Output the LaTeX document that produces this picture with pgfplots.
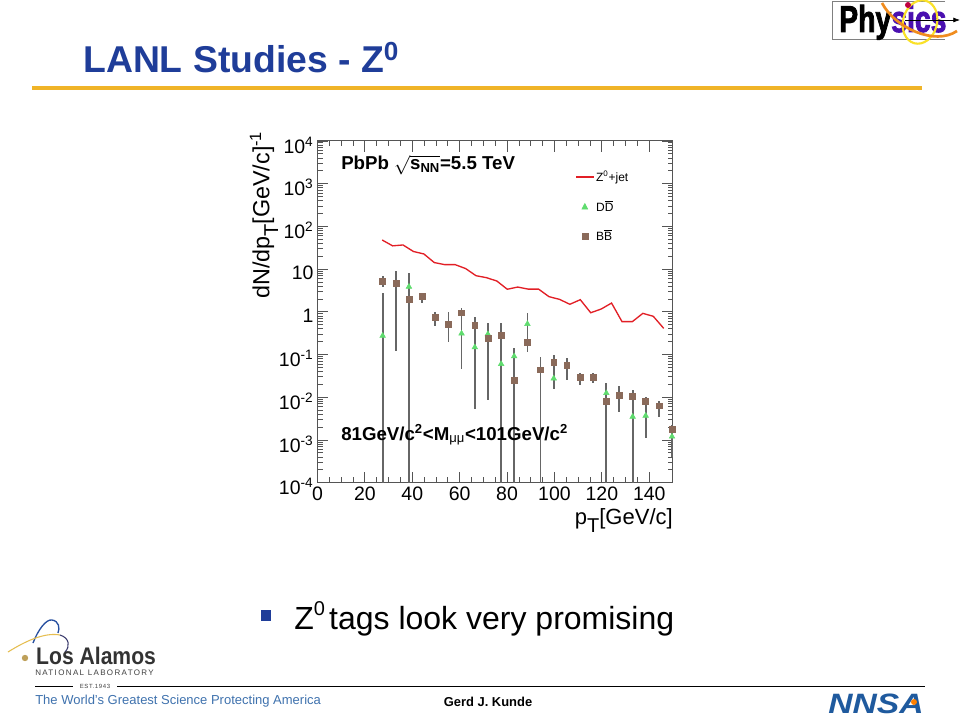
\documentclass[border=0pt]{standalone}
\usepackage{fontspec}
\setmainfont{Liberation Sans}
\usepackage{pgfplots}
\usepackage{pgfplotstable}
\pgfplotsset{compat=1.18}
\usetikzlibrary{arrows.meta}
\definecolor{titleblue}{HTML}{1F3D99}
\definecolor{rulegold}{HTML}{F0B428}
\definecolor{bbbrown}{HTML}{8A6A5A}
\definecolor{ddgreen}{HTML}{5FDC6E}
\definecolor{barcol}{HTML}{666666}
\definecolor{tickcol}{HTML}{555555}
\definecolor{linered}{HTML}{E21F26}
\definecolor{lanlblue}{HTML}{3F72AE}
\definecolor{nnsablue}{HTML}{1F5A9E}
\definecolor{orbitorange}{HTML}{F08C1E}
\definecolor{orbityellow}{HTML}{FAE128}
\definecolor{physpurple}{HTML}{4A10B0}
\definecolor{arcblue}{HTML}{2850A0}
\definecolor{arcgold}{HTML}{E6BE50}
\definecolor{arcdark}{HTML}{3C3C6E}
\definecolor{dotgold}{HTML}{BEA05A}
\newcommand{\fs}[1]{\fontsize{#1}{#1}\selectfont}
\newcommand{\lowT}[1]{\raisebox{-0.38em}{\fs{#1}T}}

% Z0+jet curve
\pgfplotstableread{
x y
27.3 48
31.7 35
36.1 36.7
40.5 25.8
44.9 22.6
49.3 14.2
53.7 12.7
58.1 12.7
62.5 10.3
66.9 7.0
71.3 6.3
75.7 5.25
80.1 3.37
84.5 3.8
88.9 3.4
93.3 3.4
97.7 2.26
102.1 1.96
106.5 1.5
110.9 1.92
115.3 0.95
119.7 1.16
124.1 1.6
128.5 0.59
132.9 0.59
137.3 0.92
141.7 0.785
146.1 0.41
}\zjet

% BB: value, upper and lower end of the bar (1e-5 runs off the axis)
\pgfplotstableread{
x y hi lo
27.5 5.3 6.9 3.9
33.1 4.7 9.0 0.123
38.6 2.0 8.2 1e-5
44.2 2.26 2.8 1.6
49.7 0.74 1.0 0.46
55.3 0.52 0.97 0.2
60.8 0.95 1.25 0.6
66.4 0.49 0.74 0.0053
71.9 0.24 0.55 0.0085
77.5 0.286 0.56 1e-5
83.0 0.025 0.145 1e-5
88.6 0.19 0.25 0.117
94.1 0.044 0.089 1e-5
99.7 0.067 0.10 0.04
105.2 0.056 0.081 0.025
110.8 0.03 0.037 0.019
116.3 0.03 0.036 0.022
121.9 0.0079 0.021 1e-5
127.4 0.011 0.0186 0.0045
133.0 0.0104 0.0148 1e-5
138.5 0.0081 0.0104 0.004
144.1 0.0063 0.0083 0.0035
149.6 0.0018 0.0022 0.0004
}\bbbar

% DD
\pgfplotstableread{
x y hi lo
27.5 0.275 2.75 1e-5
38.6 3.87 5.0 1e-5
60.8 0.31 0.6 0.045
66.4 0.148 0.3 0.0053
71.9 0.30 0.4 0.0085
77.5 0.06 0.1 1e-5
83.0 0.091 0.14 1e-5
88.6 0.52 0.95 0.19
99.7 0.0275 0.04 0.016
121.9 0.0125 0.018 1e-5
133.0 0.0035 0.005 1e-5
138.5 0.0037 0.005 0.0011
149.6 0.0012 0.0018 0.0004
}\ddbar

\begin{document}
\begin{tikzpicture}[x=0.75pt,y=-0.75pt]
\path[use as bounding box,fill=white] (0,0) rectangle (960,720);

% slide header
\node[anchor=base west,inner sep=0,text=titleblue,font=\bfseries\fs{28}] at (83,73) {LANL Studies - Z\textsuperscript{0}};
\fill[rulegold] (32,86) rectangle (922,90);

\begin{axis}[
  at={(238.1pt,-362pt)},anchor=south west,
  scale only axis,
  width=266.6pt,height=256.3pt,
  xmin=0,xmax=150,
  ymode=log,ymin=1e-4,ymax=1e4,
  xtick={0,20,...,140},
  minor x tick num=3,
  ytick={1e-4,1e-3,1e-2,1e-1,1,10,100,1000,10000},
  yticklabels={10\textsuperscript{-4},10\textsuperscript{-3},10\textsuperscript{-2},10\textsuperscript{-1},1,10,10\textsuperscript{2},10\textsuperscript{3},10\textsuperscript{4}},
  tick align=inside,
  major tick length=8pt,
  minor tick length=4pt,
  tick style={color=tickcol,line width=0.6pt},
  axis line style={color=tickcol,line width=0.7pt},
  /pgf/number format/assume math mode=true,
  tick label style={font=\fs{14.6}},
  xticklabel style={yshift=0pt},
  yticklabel style={yshift=-3pt,xshift=0.5pt},
  legend style={at={(0.727,0.921)},anchor=north west,draw=none,fill=none,
    font=\fs{9},row sep=8.5pt,inner sep=0pt},
  legend cell align=left,
]
% bars first, so the marks sit on top
\addplot[draw=none,forget plot,
  error bars/.cd,y dir=both,y explicit,error mark=none,
  error bar style={color=barcol,line width=1.4pt}]
  table[x=x,y=y,y error plus expr=\thisrow{hi}-\thisrow{y},y error minus expr=\thisrow{y}-\thisrow{lo}] {\ddbar};
\addplot[draw=none,forget plot,
  error bars/.cd,y dir=both,y explicit,error mark=none,
  error bar style={color=barcol,line width=1.4pt}]
  table[x=x,y=y,y error plus expr=\thisrow{hi}-\thisrow{y},y error minus expr=\thisrow{y}-\thisrow{lo}] {\bbbar};
\addplot[linered,line width=1pt,no marks,
  legend image code/.code={\fill[linered] (0pt,-0.15pt) rectangle (12pt,0.15pt);}] table[x=x,y=y] {\zjet};
\addplot[only marks,mark=triangle*,mark size=2.4pt,mark options={fill=ddgreen,draw=ddgreen},
  legend image code/.code={\draw[draw=none] (0pt,0pt) -- (12pt,0pt); \fill[ddgreen] (3.8pt,-1.8pt) -- (8.2pt,-1.8pt) -- (6pt,2.4pt) -- cycle;}] table[x=x,y=y] {\ddbar};
\addplot[only marks,mark=square*,mark size=2.2pt,mark options={fill=bbbrown,draw=bbbrown},
  legend image code/.code={\draw[draw=none] (0pt,0pt) -- (12pt,0pt); \fill[bbbrown] (3.8pt,-2.2pt) rectangle (8.2pt,2.2pt);}] table[x=x,y=y] {\bbbar};
\legend{Z\textsuperscript{0}+jet,D$\overline{\mbox{D}}$,B$\overline{\mbox{B}}$}
\end{axis}

% axis titles and notes in the plot
\node[rotate=90,anchor=west,inner sep=0,font=\fs{17.5}] at (264,299) {dN/dp\lowT{15}[GeV/c]\textsuperscript{-1}};
\node[anchor=base east,inner sep=0,font=\fs{16.5}] at (673,524) {p\lowT{15}[GeV/c]};
\node[anchor=base west,inner sep=0,font=\bfseries\fs{14}] at (341,170) {PbPb $\sqrt{\mbox{\bfseries s\textsubscript{NN}}}$=5.5 TeV};
\node[anchor=base west,inner sep=0,font=\bfseries\fs{14}] at (341,440) {81GeV/c\textsuperscript{2}<M\textsubscript{\normalfont μμ}<101GeV/c\textsuperscript{2}};

% bullet line
\fill[titleblue] (260.5,610) rectangle (271,621);
\node[anchor=base west,inner sep=0,font=\fs{24}] at (294,629) {Z\raisebox{0.42em}{\fs{15}0}\hspace{-0.145em} tags look very promising};

% Physics logo
\draw[gray,line width=0.6pt] (945,1) -- (832,1) -- (832,39) -- (945,39);
\node[anchor=base west,inner sep=0,xscale=0.76,font=\bfseries\fs{28}] at (839,32) {\addfontfeature{FakeBold=2.5}Phy\textcolor{physpurple}{sics}};
\draw[orbityellow,line width=1.6pt,rotate around={-15:(920,22)}] (920,22) ellipse (17 and 22);
\draw[orbitorange,line width=2pt] (882,3) .. controls (895,28) and (935,46) .. (957,31);
\fill[purple] (908,5) circle (3);
\draw[-{Latex[length=5pt]},black,line width=0.5pt] (905,20) -- (960,20);

% Los Alamos logo
\draw[arcblue,line width=1pt] (33,643) .. controls (38,630) and (46,619) .. (52,620) .. controls (59,621) and (60,628) .. (58,633);
\draw[arcgold,line width=0.8pt] (8,652) .. controls (24,642) and (44,632) .. (60,635);
\draw[arcdark,line width=0.8pt] (60,635) .. controls (70,638) and (70,647) .. (65,652);
\fill[dotgold] (25,658) circle (3.2);
\node[anchor=base west,inner sep=0,xscale=0.88,text=black!80,font=\bfseries\fs{18}] at (36,664) {Los Alamos};
\node[anchor=base west,inner sep=0,text=black!75,font=\fs{6}] at (35,675) {\addfontfeature{LetterSpace=17}NATIONAL LABORATORY};
\node[anchor=base,inner sep=0,text=black!75,font=\fs{4.5}] at (95,688) {\addfontfeature{LetterSpace=10}EST.1943};
\node[anchor=base west,inner sep=0,text=lanlblue,font=\fs{9.75}] at (35,704) {The World's Greatest Science Protecting America};

% footer
\draw[black,line width=0.6pt] (35,686) -- (73,686);
\draw[black,line width=0.6pt] (117,686) -- (925,686);
\node[anchor=base,inner sep=0,font=\bfseries\fs{9.7}] at (488,706) {Gerd J. Kunde};

% NNSA logo
\node[anchor=base west,inner sep=0,xscale=1.2,text=nnsablue,font=\bfseries\itshape\fs{21}] at (828,713) {NNSA};
\fill[orange] (914,702) circle (3);
\end{tikzpicture}
\end{document}
